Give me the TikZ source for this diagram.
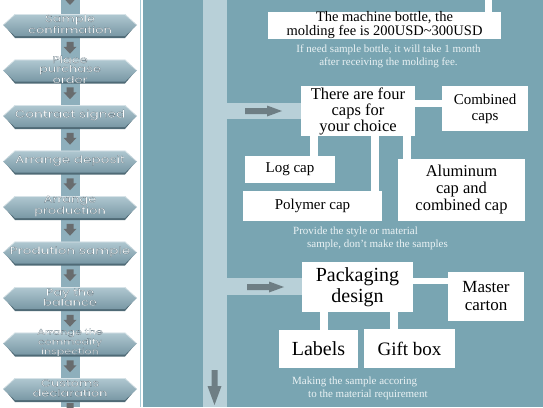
\documentclass[tikz,border=0pt]{standalone}
\usepackage{fontspec}
\setmainfont{Liberation Serif}
\newfontfamily\plqfont[FakeStretch=1.3]{Poppins}
\definecolor{panelbg}{HTML}{79A5B2}
\definecolor{barblue}{HTML}{B8D0D8}
\definecolor{colblue}{HTML}{8EAFBC}
\definecolor{borderblue}{HTML}{A8CAD6}
\definecolor{plqtop}{HTML}{B0C8D1}
\definecolor{plqbot}{HTML}{7998A5}
\definecolor{plqshadow}{HTML}{4F6A76}
\definecolor{arrgrey}{HTML}{6E7E84}
\definecolor{darrgrey}{HTML}{686C6E}
\definecolor{captext}{HTML}{EAF2F4}
\newcommand\ct[1]{\special{pdf:literal direct 2 Tr 0.12 w 0.25 0.35 0.40 RG}#1\special{pdf:literal direct 0 Tr}}
\tikzset{
  plaque/.pic={
    \fill[plqshadow] (-66,0) -- (-55,13) -- (55,13) -- (66,0) -- cycle;
    \shade[top color=plqtop, bottom color=plqbot] (-67,0) -- (-55,-11) -- (55,-11) -- (67,0) -- (55,11) -- (-55,11) -- cycle;
    \draw[white, opacity=0.5, line width=0.6pt] (-66,-0.5) -- (-55,-10.5) -- (55,-10.5) -- (66,-0.5);
  },
  downarr/.pic={
    \fill[darrgrey] (-3.5,-6) -- (3.5,-6) -- (3.5,-1) -- (6.5,-1) -- (0,6) -- (-6.5,-1) -- (-3.5,-1) -- cycle;
  },
  rarr/.pic={
    \fill[arrgrey] (0,-3) -- (22,-3) -- (22,-5.5) -- (37,0) -- (22,5.5) -- (22,3) -- (0,3) -- cycle;
  },
  bigdown/.pic={
    \fill[arrgrey] (-3,0) -- (3,0) -- (3,16) -- (7,16) -- (0,35) -- (-7,16) -- (-3,16) -- cycle;
  },
  plqtext/.style={text=white, align=center, inner sep=0pt,
    font=\plqfont\fontsize{10}{10}\selectfont},
  wbox/.style={fill=white, inner sep=0pt, align=center},
  wconn/.style={white, line width=8pt},
  band/.style={barblue, line width=16pt},
  captxt/.style={text=captext, inner sep=0pt, font=\fontsize{11}{13}\selectfont}
}
\begin{document}
\begin{tikzpicture}[x=1pt,y=-1pt]
\useasboundingbox (0,0) rectangle (543,407);
% panels
\fill[white] (0,0) rectangle (143,407);
\fill[panelbg] (143,0) rectangle (543,407);
\draw[borderblue, line width=1.2pt] (140.5,0) -- (140.5,407);
% left column
\fill[colblue] (61,0) rectangle (80,407);
\foreach \m in {-1,47.75,93.25,138.75,184.25,229.75,275.25,320.75,366.25,409}
  \pic at (70,\m) {downarr};
% plaques
\foreach \c in {25,70.5,116,161.5,207,252.5,298,343.5,389}
  \pic at (70,\c) {plaque};
\node[plqtext] (p1) at (70,24) {\ct{Sample}\\\ct{confirmation}};
\node[plqtext, font=\plqfont\fontsize{10}{9}\selectfont] (p2) at (70,69.5) {\ct{Place}\\\ct{purchase}\\\ct{order}};
\node[plqtext, font=\plqfont\fontsize{10.5}{10}\selectfont] (p3) at (70,115) {\ct{Contract signed}};
\node[plqtext, font=\plqfont\fontsize{10.5}{10}\selectfont] (p4) at (70,160.5) {\ct{Arrange deposit}};
\node[plqtext] (p5) at (70,206) {\ct{Arrange}\\\ct{production}};
\node[plqtext, font=\plqfont\fontsize{10.5}{10}\selectfont] (p6) at (70,251.5) {\ct{Prodution sample}};
\node[plqtext] (p7) at (70,297) {\ct{Pay the}\\\ct{balance}};
\node[plqtext, font=\plqfont\fontsize{8.5}{8.5}\selectfont] (p8) at (70,342.5) {\ct{Arrange the}\\\ct{commodity}\\\ct{inspection}};
\node[plqtext] (p9) at (70,388) {\ct{Customs}\\\ct{declaration}};
% right bar
\fill[barblue] (203,0) rectangle (227,407);
% boxes
\node[wbox, minimum width=233, minimum height=27, font=\fontsize{14.5}{14}\selectfont] (machine) at (384.5,25.5) {The machine bottle, the\\molding fee is 200USD\textasciitilde300USD};
\node[captxt, align=center] (note1) at (388.5,56.5) {If need sample bottle, it will take 1 month\\after receiving the molding fee.};
\node[wbox, minimum width=114, minimum height=50, font=\fontsize{16.5}{16}\selectfont] (caps) at (358,111) {There are four\\caps for\\your choice};
\node[wbox, minimum width=86, minimum height=45, font=\fontsize{15}{16}\selectfont] (comb) at (485,108.5) {Combined\\caps};
\node[wbox, minimum width=90, minimum height=27, font=\fontsize{15}{16}\selectfont] (log) at (290,169.5) {Log cap};
\node[wbox, minimum width=139, minimum height=30, font=\fontsize{15}{16}\selectfont] (poly) at (312.5,206) {Polymer cap};
\node[wbox, minimum width=127, minimum height=62, font=\fontsize{16.5}{17}\selectfont] (alu) at (461.5,190) {Aluminum\\cap and\\combined cap};
\node[captxt, align=left, anchor=west] (note2) at (293,238.5) {Provide the style or material\\\hspace*{14pt}sample, don't make the samples};
\node[wbox, minimum width=111, minimum height=50, font=\fontsize{20}{21}\selectfont] (pack) at (357.5,287) {Packaging\\design};
\node[wbox, minimum width=76, minimum height=49, font=\fontsize{17}{18}\selectfont] (master) at (486,296.5) {Master\\carton};
\node[wbox, minimum width=79, minimum height=38, font=\fontsize{20}{21}\selectfont] (labels) at (318.5,349) {Labels};
\node[wbox, minimum width=91, minimum height=39, font=\fontsize{19}{20}\selectfont] (gift) at (409.5,348.5) {Gift box};
\node[captxt, align=left, anchor=west] (note3) at (292,388.5) {Making the sample accoring\\\hspace*{16pt}to the material requirement};
% bands from bar
\draw[band] (215,111) -- (caps.west);
\draw[band, line width=17pt] (215,286.5) -- (pack.west |- 0,286.5);
\pic at (245,111) {rarr};
\pic at (247,287) {rarr};
\pic at (214.5,370) {bigdown};
% connectors
\coordinate (topend) at (488.5,0);
\draw[wconn, line width=7pt] (topend) -- (topend |- machine.north);
\draw[wconn, line width=7pt] (caps.east |- 0,103.5) -- (comb.west |- 0,103.5);
\draw[wconn] (314,0 |- caps.south) -- (314,0 |- log.north);
\draw[wconn] (375,0 |- caps.south) -- (375,0 |- poly.north);
\draw[wconn] (407,0 |- caps.south) -- (407,0 |- alu.north);
\draw[wconn, line width=6pt] (pack.east |- 0,280.5) -- (master.west |- 0,280.5);
\draw[wconn] (324,0 |- pack.south) -- (324,0 |- labels.north);
\draw[wconn] (393.5,0 |- pack.south) -- (393.5,0 |- gift.north);
\end{tikzpicture}
\end{document}
